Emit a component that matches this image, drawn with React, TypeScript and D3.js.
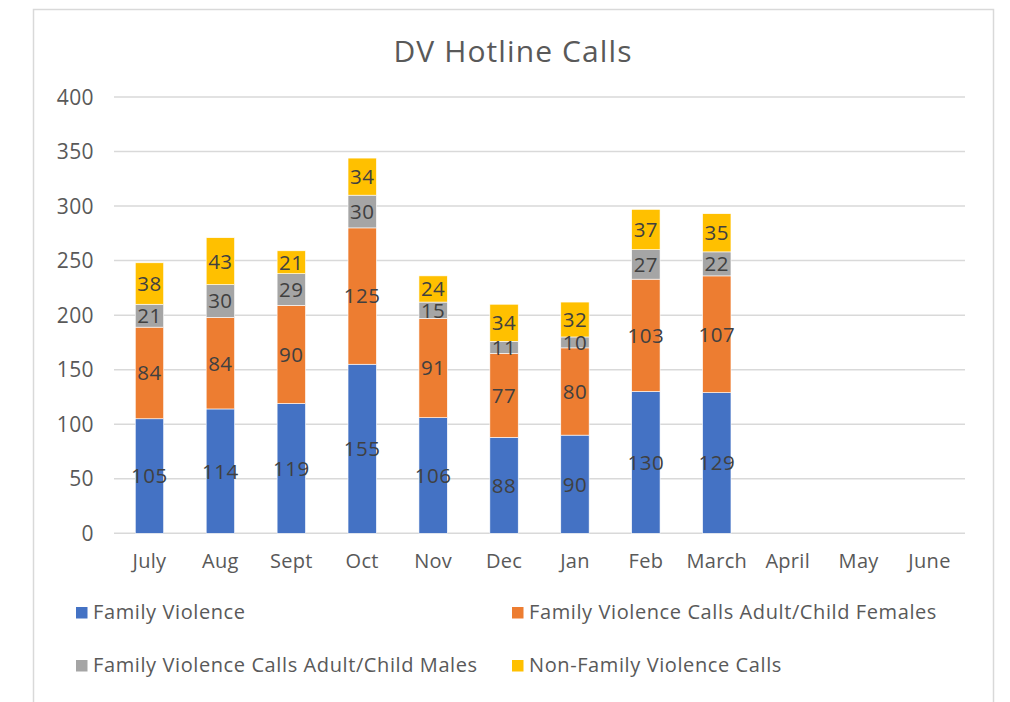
import React from "react";
import * as d3 from "d3";

const months = ["July", "Aug", "Sept", "Oct", "Nov", "Dec", "Jan", "Feb", "March", "April", "May", "June"];
const familyViolence = [105, 114, 119, 155, 106, 88, 90, 130, 129];
const femaleCalls = [84, 84, 90, 125, 91, 77, 80, 103, 107];
const maleCalls = [21, 30, 29, 30, 15, 11, 10, 27, 22];
const nonFamilyCalls = [38, 43, 21, 34, 24, 34, 32, 37, 35];
const yTicks = [0, 50, 100, 150, 200, 250, 300, 350, 400];

const seriesNames = [
  "Family Violence",
  "Family Violence Calls Adult/Child Females",
  "Family Violence Calls Adult/Child Males",
  "Non-Family Violence Calls",
];
const seriesColors = ["#4472C4", "#ED7D31", "#A5A5A5", "#FFC000"];
const seriesData = [familyViolence, femaleCalls, maleCalls, nonFamilyCalls];

const W = 1010;
const H = 702;
const FONT = "'Open Sans', 'DejaVu Sans', sans-serif";
const TEXT = "#595959";

export default function App() {
  const x = d3.scaleBand<string>().domain(months).range([114, 965]).paddingInner(0.6).paddingOuter(0.3);
  const y = d3.scaleLinear().domain([0, 400]).range([533.3, 97]);

  const rows = familyViolence.map((_, i) => {
    const r: any = { month: months[i] };
    seriesData.forEach((s, k) => (r["s" + k] = s[i]));
    return r;
  });
  const stack = d3.stack<any>().keys(seriesNames.map((_, k) => "s" + k));
  const stacked = stack(rows);

  const legendPos = [
    { x: 76, y: 607 },
    { x: 512, y: 607 },
    { x: 76, y: 660 },
    { x: 512, y: 660 },
  ];

  return (
    <svg width={W} height={H} style={{ position: "absolute", left: 0, top: 0, background: "#fff" }} fontFamily={FONT}>
      <rect x={0} y={0} width={W} height={H} fill="#fff" />
      <rect x={33.5} y={9.5} width={960} height={760} fill="#fff" stroke="#d9d9d9" strokeWidth={1.5} />
      <text x={513} y={62} textAnchor="middle" fontSize={30} letterSpacing={1.1} fill={TEXT}>DV Hotline Calls</text>

      {yTicks.map((t) => (
        <g key={t}>
          <line x1={114} x2={965} y1={y(t)} y2={y(t)} stroke="#d9d9d9" strokeWidth={1.5} />
          <text x={94} y={y(t)} dy="0.36em" textAnchor="end" fontSize={21} letterSpacing={0.4} fill={TEXT}>{t}</text>
        </g>
      ))}

      {stacked.map((layer, k) => (
        <g key={k}>
          {layer.map((d, i) => (
            <rect
              key={i}
              x={x(months[i])!}
              width={x.bandwidth()}
              y={y(d[1])}
              height={y(d[0]) - y(d[1])}
              fill={seriesColors[k]}
              stroke="#fff"
              strokeWidth={0.6}
            />
          ))}
        </g>
      ))}

      {stacked.map((layer, k) => (
        <g key={"l" + k}>
          {layer.map((d, i) => (
            <text
              key={i}
              x={x(months[i])! + x.bandwidth() / 2}
              y={(y(d[0]) + y(d[1])) / 2}
              dy="0.36em"
              textAnchor="middle"
              fontSize={20.5}
              letterSpacing={0.5}
              fill="#404040"
            >
              {seriesData[k][i]}
            </text>
          ))}
        </g>
      ))}

      {months.map((m) => (
        <text key={m} x={x(m)! + x.bandwidth() / 2} y={568} textAnchor="middle" fontSize={20} letterSpacing={0.3} fill={TEXT}>{m}</text>
      ))}

      {seriesNames.map((n, k) => (
        <g key={n}>
          <rect x={legendPos[k].x} y={legendPos[k].y} width={11.5} height={11.5} fill={seriesColors[k]} />
          <text x={legendPos[k].x + 17} y={legendPos[k].y + 12} fontSize={20} letterSpacing={0.6} fill={TEXT}>{n}</text>
        </g>
      ))}
    </svg>
  );
}
